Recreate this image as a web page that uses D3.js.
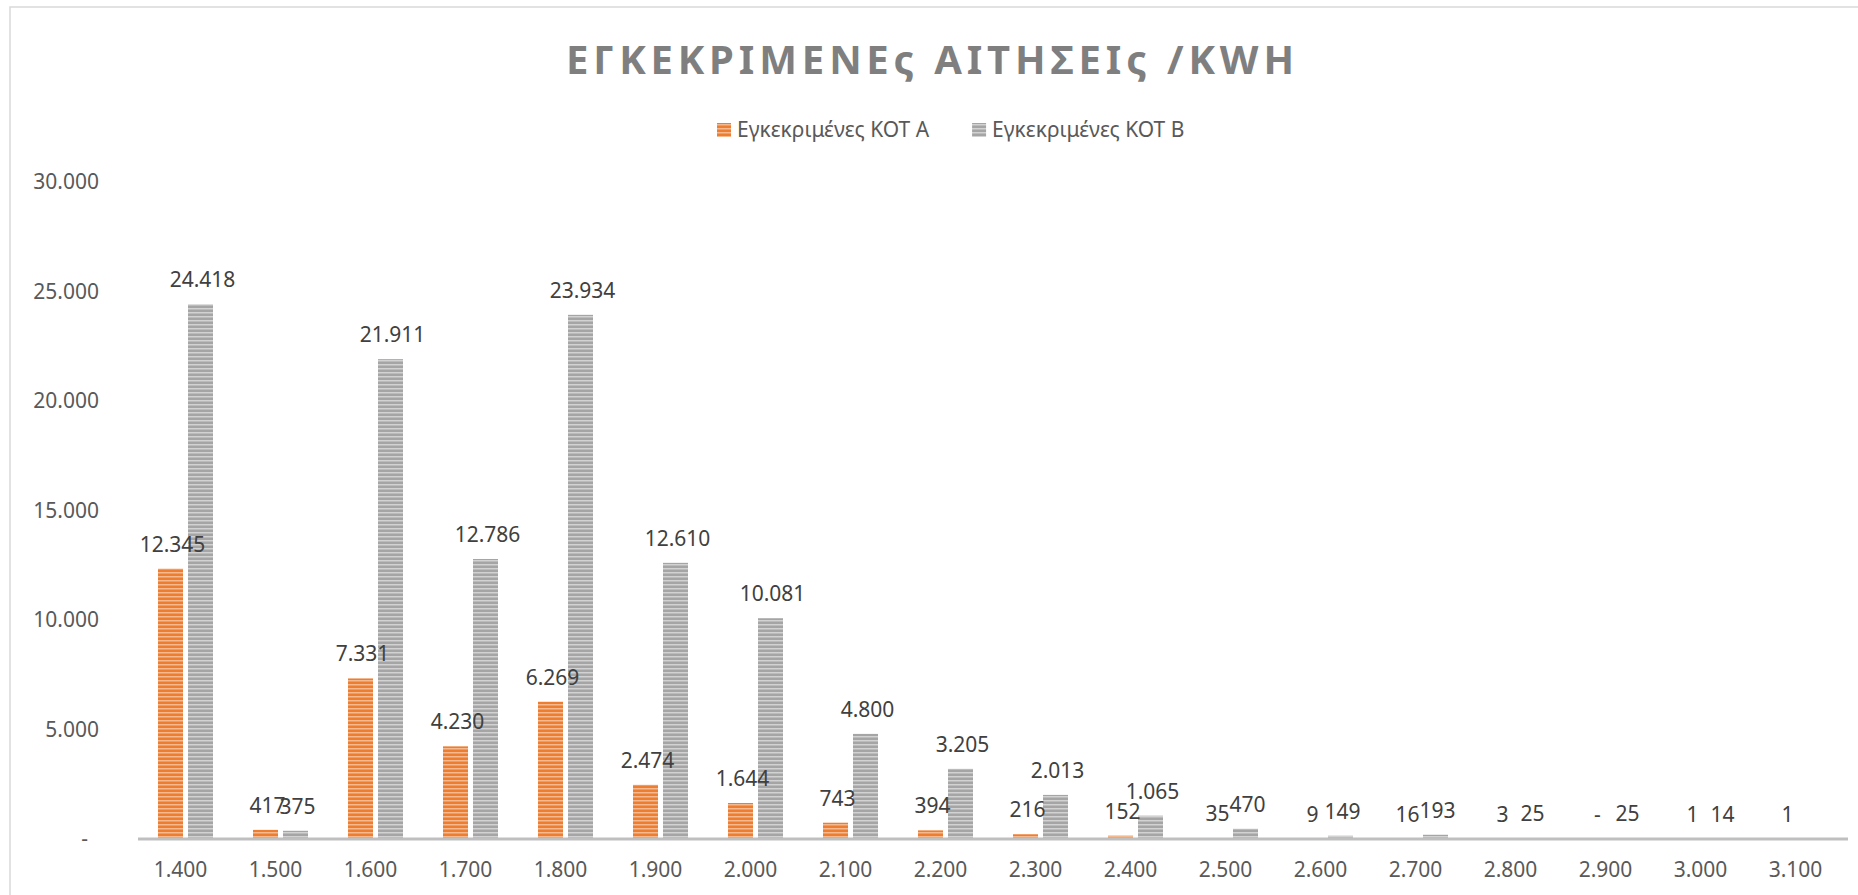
<!DOCTYPE html>
<html>
<head>
<meta charset="utf-8">
<script src="https://d3js.org/d3.v7.min.js"></script>
<style>
  body { margin: 0; background: #fff; }
  text { font-family: "Noto Sans", sans-serif; }
</style>
</head>
<body>
<div id="chart"></div>
<script>
// data
var categories = ["1.400", "1.500", "1.600", "1.700", "1.800", "1.900", "2.000", "2.100", "2.200",
                  "2.300", "2.400", "2.500", "2.600", "2.700", "2.800", "2.900", "3.000", "3.100"];
var kotA = [12345, 417, 7331, 4230, 6269, 2474, 1644, 743, 394, 216, 152, 35, 9, 16, 3, 0, 1, 1];
var kotB = [24418, 375, 21911, 12786, 23934, 12610, 10081, 4800, 3205, 2013, 1065, 470, 149, 193, 25, 25, 14, null];
var seriesNames = ["Εγκεκριμένες ΚΟΤ Α", "Εγκεκριμένες ΚΟΤ Β"];
var yTicks = [0, 5000, 10000, 15000, 20000, 25000, 30000];
var title = "ΕΓΚΕΚΡΙΜΕΝΕς ΑΙΤΗΣΕΙς /KWH";

var width = 1858, height = 895;
var colors = [{base: "#ED7D31", light: "#F6B98E"}, {base: "#A5A5A5", light: "#D2D2D2"}];

var locale = d3.formatLocale({decimal: ",", thousands: ".", grouping: [3], currency: ["", "€"]});
var fmt = function (v) { return v === 0 ? "-" : locale.format(",d")(v); };

var svg = d3.select("#chart").append("svg")
    .attr("width", width)
    .attr("height", height);

// striped fills
var defs = svg.append("defs");
colors.forEach(function (c, i) {
    var p = defs.append("pattern")
        .attr("id", "stripe" + i)
        .attr("patternUnits", "userSpaceOnUse")
        .attr("width", 8).attr("height", 4);
    p.append("rect").attr("width", 8).attr("height", 4).attr("fill", c.base);
    p.append("rect").attr("y", 0).attr("width", 8).attr("height", 1.5).attr("fill", c.light);
});

// chart area border
svg.append("rect")
    .attr("x", 10).attr("y", 7)
    .attr("width", width).attr("height", height)
    .attr("fill", "none")
    .attr("stroke", "#D9D9D9")
    .attr("stroke-width", 1.5);

// title
svg.append("text")
    .attr("x", 930).attr("y", 74)
    .attr("text-anchor", "middle")
    .attr("fill", "#7F7F7F")
    .attr("font-size", "40px")
    .attr("font-weight", "bold")
    .attr("textLength", 728)
    .attr("lengthAdjust", "spacing")
    .text(title);

// legend
var lx = 717;
seriesNames.forEach(function (name, i) {
    svg.append("rect")
        .attr("x", lx).attr("y", 123)
        .attr("width", 14).attr("height", 14)
        .attr("fill", "url(#stripe" + i + ")");
    var t = svg.append("text")
        .attr("x", lx + 20).attr("y", 137)
        .attr("fill", "#595959")
        .attr("font-size", "21px")
        .text(name);
    lx += 20 + t.node().getComputedTextLength() + 43;
});

// scales
var x0 = d3.scaleBand().domain(categories).range([138, 1848]);
var x1 = d3.scaleBand().domain([0, 1]).range([0, x0.bandwidth()])
    .paddingInner(1 / 6).paddingOuter(2 / 3);
var y = d3.scaleLinear().domain([0, 30000]).range([839, 182]);

// y axis
var yAxis = svg.append("g")
    .attr("transform", "translate(99,0)")
    .call(d3.axisLeft(y).tickValues(yTicks).tickSize(0).tickPadding(0).tickFormat(fmt));
yAxis.select(".domain").remove();
yAxis.selectAll("text")
    .attr("font-family", "Noto Sans")
    .attr("font-size", "21px")
    .attr("fill", "#595959")
    .attr("dx", function (d) { return d === 0 ? -11 : 0; });

// x axis
var xAxis = svg.append("g")
    .attr("transform", "translate(0," + y(0) + ")")
    .call(d3.axisBottom(x0).tickSize(0).tickPadding(23));
xAxis.select(".domain").remove();
xAxis.selectAll("text")
    .attr("font-family", "Noto Sans")
    .attr("font-size", "21px")
    .attr("fill", "#595959")
    .attr("dx", -5);

// bars
var rows = categories.map(function (c, i) { return {cat: c, vals: [kotA[i], kotB[i]]}; });
var groups = svg.append("g").selectAll("g")
    .data(rows).join("g")
    .attr("transform", function (d) { return "translate(" + x0(d.cat) + ",0)"; });

groups.selectAll("rect")
    .data(function (d) { return d.vals.map(function (v, k) { return {k: k, v: v}; }).filter(function (e) { return e.v !== null; }); })
    .join("rect")
    .attr("x", function (d) { return x1(d.k); })
    .attr("y", function (d) { return y(d.v); })
    .attr("width", x1.bandwidth())
    .attr("height", function (d) { return y(0) - y(d.v); })
    .attr("fill", function (d) { return "url(#stripe" + d.k + ")"; });

// baseline
svg.append("line")
    .attr("x1", x0.range()[0]).attr("x2", x0.range()[1])
    .attr("y1", y(0)).attr("y2", y(0))
    .attr("stroke", "#BFBFBF")
    .attr("stroke-width", 3);

// data labels
groups.selectAll("text.lbl")
    .data(function (d) { return d.vals.map(function (v, k) { return {k: k, v: v}; }).filter(function (e) { return e.v !== null; }); })
    .join("text")
    .attr("class", "lbl")
    .attr("x", function (d) { return x1(d.k) + x1.bandwidth() / 2 + 2; })
    .attr("y", function (d) { return y(d.v) - 17; })
    .attr("text-anchor", "middle")
    .attr("fill", "#404040")
    .attr("font-size", "21px")
    .text(function (d) { return fmt(d.v); });
</script>
</body>
</html>
